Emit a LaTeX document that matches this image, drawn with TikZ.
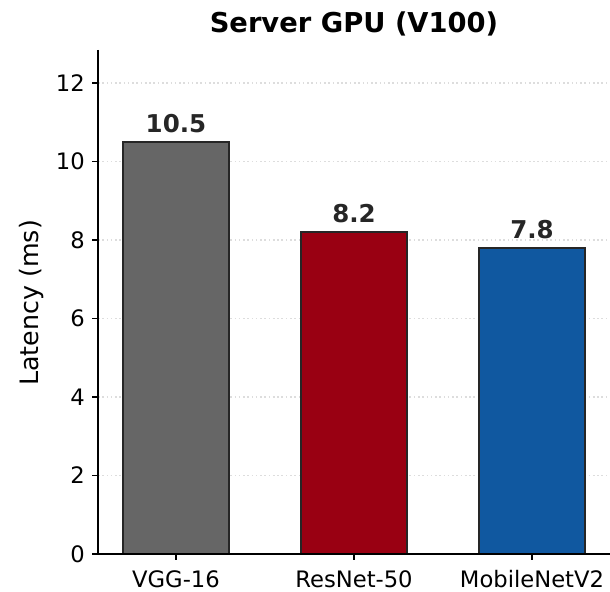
\documentclass[tikz,border=0pt]{standalone}
\usepackage{fontspec}
\setmainfont{DejaVu Sans}
\definecolor{barGray}{HTML}{666666}
\definecolor{barRed}{HTML}{990012}
\definecolor{barBlue}{HTML}{1058A0}
\definecolor{edgeDark}{HTML}{262626}
\definecolor{gridGray}{HTML}{DDDDDD}
\definecolor{valText}{HTML}{262626}
\begin{document}
\begin{tikzpicture}[x=0.75pt,y=-0.75pt,
  spine/.style={line width=1.1pt,black},
  tickmark/.style={line width=0.9pt,black},
  gridline/.style={gridGray,line width=0.8pt,dash pattern=on 1.2pt off 2pt},
  bar/.style={draw=edgeDark,line width=1.1pt},
  ticklabel/.style={font=\fontsize{17}{20}\selectfont,inner sep=0pt},
  vallabel/.style={font=\fontsize{18.4}{21}\selectfont\bfseries,text=valText,inner sep=0pt,anchor=base},
  titlelabel/.style={font=\fontsize{20.5}{23}\selectfont\bfseries,inner sep=0pt}]
\useasboundingbox (0,0) rectangle (610,592);
% grid lines
\foreach \v in {1,...,6}
  \draw[gridline] (98,{554-78.5*\v}) -- (610,{554-78.5*\v});
% bars
\fill[barGray] (123,554) rectangle (229,141.9);
\draw[bar] (123,554) rectangle (229,141.9);
\fill[barRed] (301,554) rectangle (407,232.1);
\draw[bar] (301,554) rectangle (407,232.1);
\fill[barBlue] (479,554) rectangle (585,247.9);
\draw[bar] (479,554) rectangle (585,247.9);
% value labels
\node[vallabel] (v1) at (176,132) {10.5};
\node[vallabel] (v2) at (354,222) {8.2};
\node[vallabel] (v3) at (532,238) {7.8};
% spines
\draw[spine] (98,50) -- (98,554) -- (610,554);
% y ticks
\foreach \v in {0,...,6} {
  \draw[tickmark] (92,{554-78.5*\v}) -- (98,{554-78.5*\v});
  \node[ticklabel,anchor=east] at (85,{554-78.5*\v}) {\the\numexpr 2*\v\relax};
}
% x ticks
\foreach \xx/\lab in {176/VGG-16,354/ResNet-50,532/MobileNetV2} {
  \draw[tickmark] (\xx,554) -- (\xx,560);
  \node[ticklabel,anchor=north] at (\xx,570) {\lab};
}
% axis title and chart title
\node[font=\fontsize{19}{22}\selectfont,rotate=90,inner sep=0pt] (ylab) at (32,303) {Latency (ms)};
\node[titlelabel] (title) at (354,24) {Server GPU (V100)};
\end{tikzpicture}
\end{document}
